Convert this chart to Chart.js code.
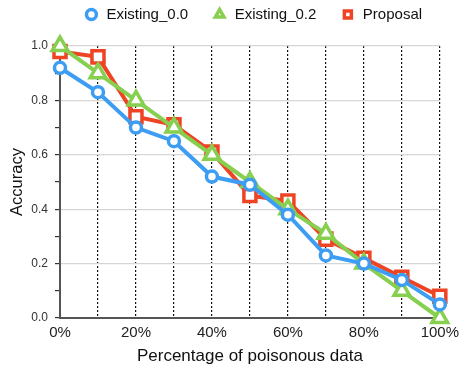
<!DOCTYPE html>
<html>
<head>
<meta charset="utf-8">
<script src="https://cdn.jsdelivr.net/npm/chart.js@4.4.0/dist/chart.umd.min.js"></script>
<style>
  html, body { margin: 0; padding: 0; background: #fff; }
  #wrap { width: 465px; height: 372px; position: relative; }
</style>
</head>
<body>
<div id="wrap"><canvas id="c" width="465" height="372"></canvas></div>
<script>
// Share of poisoned training data (%)
const poisonPct = [0, 10, 20, 30, 40, 50, 60, 70, 80, 90, 100];

// Accuracy per method
const existing00 = [0.92, 0.83, 0.70, 0.65, 0.52, 0.49, 0.38, 0.23, 0.20, 0.14, 0.05];
const existing02 = [1.00, 0.90, 0.80, 0.70, 0.60, 0.50, 0.40, 0.31, 0.20, 0.10, 0.00];
const proposal   = [0.98, 0.96, 0.74, 0.71, 0.61, 0.45, 0.43, 0.29, 0.22, 0.15, 0.08];

const seriesNames = ['Existing_0.0', 'Existing_0.2', 'Proposal'];
const yTickLabels = ['0.0', '0.2', '0.4', '0.6', '0.8', '1.0'];

const FONT = '"Liberation Sans", Arial, Helvetica, sans-serif';

function pairs(vals) {
  return vals.map((v, i) => ({ x: poisonPct[i], y: v }));
}

function series(label, vals, color, style, radius) {
  return {
    label: label,
    data: pairs(vals),
    borderColor: color,
    backgroundColor: '#ffffff',
    borderWidth: 4,
    pointStyle: style,
    pointRadius: radius,
    pointHoverRadius: radius,
    pointBorderWidth: 3.5,
    pointBorderColor: color,
    pointBackgroundColor: '#ffffff',
    tension: 0,
    clip: false
  };
}

// Fixed legend band above the plot, with the item row centred over the axes
const legendPlacement = {
  id: 'legendPlacement',
  beforeInit(chart) {
    const lg = chart.legend;
    if (!lg) return;
    const fit = lg.fit;
    lg.fit = function () {
      fit.call(this);
      this.height = 46;
    };
  },
  afterLayout(chart) {
    const lg = chart.legend;
    if (!lg) return;
    lg.left = 41;
    lg.right = 465;
    lg.top = -17;
  }
};

new Chart(document.getElementById('c'), {
  type: 'line',
  data: {
    datasets: [
      series(seriesNames[0], existing00, '#3d9df2', 'circle', 5.5),
      series(seriesNames[1], existing02, '#86cf4f', 'triangle', 9),
      series(seriesNames[2], proposal, '#ee4424', 'rect', 8.5)
    ]
  },
  plugins: [legendPlacement],
  options: {
    responsive: false,
    animation: false,
    devicePixelRatio: 1,
    layout: { padding: { top: 0, right: 20, bottom: 5, left: 8 } },
    plugins: {
      tooltip: { enabled: false },
      legend: {
        position: 'top',
        align: 'center',
        labels: {
          usePointStyle: true,
          boxWidth: 15,
          boxHeight: 7,
          padding: 24,
          color: '#111',
          font: { family: FONT, size: 15 }
        }
      }
    },
    scales: {
      x: {
        type: 'linear',
        min: 0,
        max: 100,
        ticks: {
          stepSize: 10,
          autoSkip: false,
          maxRotation: 0,
          color: '#222',
          padding: 6,
          font: { family: FONT, size: 15 },
          callback: (v) => (v % 20 === 0 ? v + '%' : '')
        },
        grid: {
          drawTicks: false,
          color: (ctx) => (ctx.tick && ctx.tick.value === 0 ? 'rgba(0,0,0,0)' : '#111'),
          lineWidth: 1.2
        },
        border: { display: true, color: '#555', width: 2, dash: [2, 2] },
        title: {
          display: true,
          text: 'Percentage of poisonous data',
          color: '#111',
          font: { family: FONT, size: 17 },
          padding: { top: 2, bottom: 0 }
        },
        afterFit: (s) => { s.height = 49; }
      },
      y: {
        min: 0,
        max: 1,
        ticks: {
          stepSize: 0.1,
          autoSkip: false,
          color: '#333',
          padding: 7,
          font: { family: FONT, size: 12 },
          callback: (v, i) => (i % 2 === 0 ? yTickLabels[i / 2] : '')
        },
        grid: {
          color: (ctx) => (ctx.index % 2 === 0 ? '#d6d6d6' : 'rgba(0,0,0,0)'),
          tickColor: '#333',
          tickLength: 5,
          lineWidth: 1.2
        },
        border: { display: true, color: '#555', width: 2 },
        title: {
          display: true,
          text: 'Accuracy',
          color: '#111',
          font: { family: FONT, size: 16.5 },
          padding: { top: 0, bottom: 6 }
        },
        afterFit: (s) => { s.width = 52; }
      }
    }
  }
});
</script>
</body>
</html>
